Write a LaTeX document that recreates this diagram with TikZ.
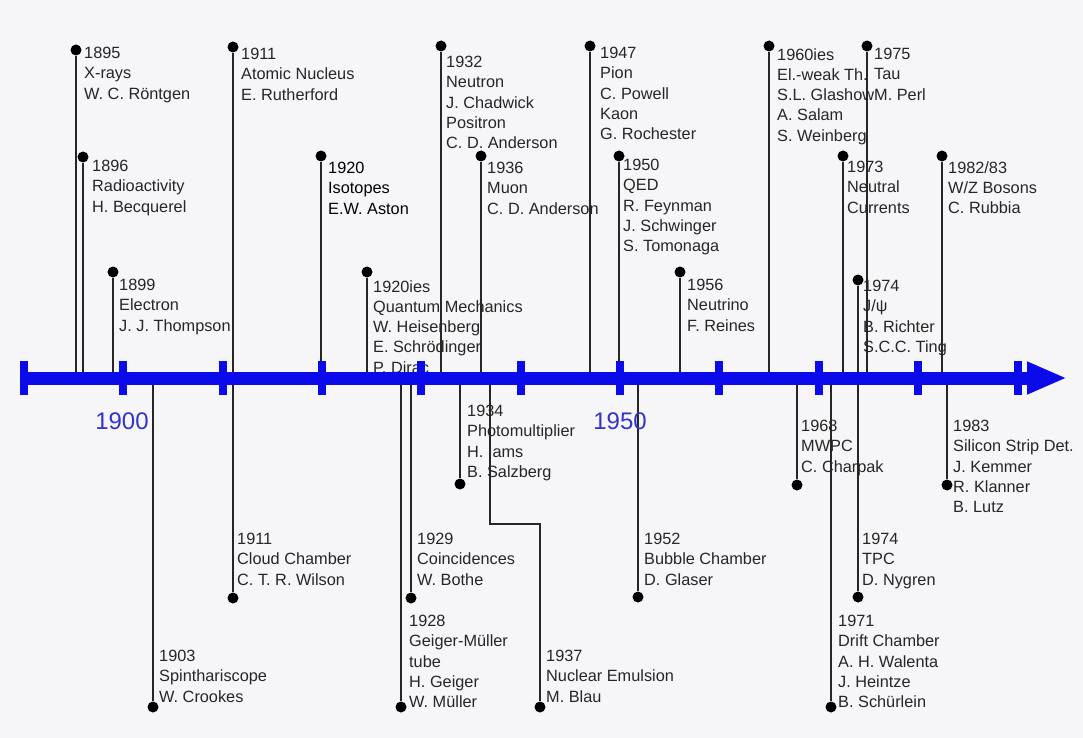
\documentclass[tikz,border=0pt]{standalone}
\usepackage{fontspec}
\setmainfont{Liberation Sans}
\usetikzlibrary{arrows.meta}
\definecolor{axisblue}{RGB}{10,10,235}
\definecolor{yearblue}{RGB}{50,50,205}
\definecolor{paper}{RGB}{246,246,248}
\newcommand{\evfont}{\fontsize{16.3}{20.3}\selectfont}
\tikzset{
    evdot/.style={
           circle,
           fill=black,
           inner sep=0pt,
           minimum size=11pt,
           },
    evtext/.style={
           anchor=north west,
           align=left,
           inner sep=0pt,
           font=\evfont,
           text=black!85,
           },
    stem/.style={draw=black!85, line width=2pt},
    axisline/.style={draw=axisblue, line width=13pt},
    tickmark/.style={draw=axisblue, line width=8pt},
    yearlabel/.style={font=\fontsize{24}{24}\selectfont, text=yearblue},
}

\begin{document}
\begin{tikzpicture}[x=1pt,y=-1pt]

 % page, 1083 x 738
 \useasboundingbox[fill=paper] (0,0) rectangle (1083,738);

 % points on the time axis where the stems start
 \coordinate (axisstart) at (24,378);
 \coordinate (axisend) at (1067,378);
 \coordinate (a1895) at (76,378);
 \coordinate (a1896) at (83,378);
 \coordinate (a1899) at (113,378);
 \coordinate (a1911) at (233,378);
 \coordinate (a1920) at (321,378);
 \coordinate (a1925) at (367,378);
 \coordinate (a1932) at (441,378);
 \coordinate (a1936) at (481,378);
 \coordinate (a1947) at (590,378);
 \coordinate (a1950) at (619,378);
 \coordinate (a1956) at (680,378);
 \coordinate (a1965) at (769,378);
 \coordinate (a1973) at (843,378);
 \coordinate (a1974) at (858,378);
 \coordinate (a1975) at (867,378);
 \coordinate (a1982) at (942,378);
 \coordinate (a1903) at (153,378);
 \coordinate (a1928) at (401,378);
 \coordinate (a1929) at (411,378);
 \coordinate (a1934) at (460,378);
 \coordinate (a1937) at (490,378);
 \coordinate (a1952) at (638,378);
 \coordinate (a1968) at (797,378);
 \coordinate (a1971) at (831,378);
 \coordinate (a1983) at (947,378);

 % discoveries (above the axis)
 \node[evdot] (d1895) at (76,50) {};
 \node[evtext] (t1895) at (84,47) {1895\\X-rays\\W. C. Röntgen};

 \node[evdot] (d1896) at (83,157) {};
 \node[evtext] (t1896) at (92,160) {1896\\Radioactivity\\H. Becquerel};

 \node[evdot] (d1899) at (113,272) {};
 \node[evtext] (t1899) at (119,279) {1899\\Electron\\J. J. Thompson};

 \node[evdot] (d1911) at (233,47) {};
 \node[evtext] (t1911) at (241,48) {1911\\Atomic Nucleus\\E. Rutherford};

 \node[evdot] (d1920) at (321,156) {};
 \node[evtext,text=black] (t1920) at (328,162) {1920\\Isotopes\\E.W. Aston};

 \node[evdot] (d1925) at (367,272) {};
 \node[evtext] (t1925) at (373,280)
 {1920ies\\Quantum Mechanics\\W. Heisenberg\\E. Schrödinger\\P. Dirac};

 \node[evdot] (d1932) at (441,46) {};
 \node[evtext] (t1932) at (446,56)
 {1932\\Neutron\\J. Chadwick\\Positron\\C. D. Anderson};

 \node[evdot] (d1936) at (481,156) {};
 \node[evtext] (t1936) at (487,162) {1936\\Muon\\C. D. Anderson};

 \node[evdot] (d1947) at (590,46) {};
 \node[evtext] (t1947) at (600,47) {1947\\Pion\\C. Powell\\Kaon\\G. Rochester};

 \node[evdot] (d1950) at (619,156) {};
 \node[evtext] (t1950) at (623,159)
 {1950\\QED\\R. Feynman\\J. Schwinger\\S. Tomonaga};

 \node[evdot] (d1956) at (680,272) {};
 \node[evtext] (t1956) at (687,279) {1956\\Neutrino\\F. Reines};

 \node[evdot] (d1965) at (769,46) {};
 \node[evtext] (t1965) at (777,48)
 {1960ies\\El.-weak Th.\\S.L. Glashow\\A. Salam\\S. Weinberg};

 \node[evdot] (d1973) at (843,156) {};
 \node[evtext] (t1973) at (847,161) {1973\\Neutral\\Currents};

 \node[evdot] (d1974) at (858,280) {};
 \node[evtext] (t1974) at (863,280) {1974\\J/ψ\\B. Richter\\S.C.C. Ting};

 \node[evdot] (d1975) at (867,46) {};
 \node[evtext] (t1975) at (874,48) {1975\\Tau\\M. Perl};

 \node[evdot] (d1982) at (942,156) {};
 \node[evtext] (t1982) at (948,161) {1982/83\\W/Z Bosons\\C. Rubbia};

 % detectors (below the axis)
 \node[evdot] (d1903) at (153,707) {};
 \node[evtext] (t1903) at (159,650) {1903\\Spinthariscope\\W. Crookes};

 \node[evdot] (d1911b) at (233,598) {};
 \node[evtext] (t1911b) at (237,533) {1911\\Cloud Chamber\\C. T. R. Wilson};

 \node[evdot] (d1928) at (401,707) {};
 \node[evtext] (t1928) at (409,615)
 {1928\\Geiger-Müller\\tube\\H. Geiger\\W. Müller};

 \node[evdot] (d1929) at (411,598) {};
 \node[evtext] (t1929) at (417,533) {1929\\Coincidences\\W. Bothe};

 \node[evdot] (d1934) at (460,484) {};
 \node[evtext] (t1934) at (467,405)
 {1934\\Photomultiplier\\H. Iams\\B. Salzberg};

 \node[evdot] (d1937) at (540,707) {};
 \node[evtext] (t1937) at (546,650) {1937\\Nuclear Emulsion\\M. Blau};

 \node[evdot] (d1952) at (638,597) {};
 \node[evtext] (t1952) at (644,533) {1952\\Bubble Chamber\\D. Glaser};

 \node[evdot] (d1968) at (797,485) {};
 \node[evtext] (t1968) at (801,420) {1968\\MWPC\\C. Charpak};

 \node[evdot] (d1971) at (831,707) {};
 \node[evtext] (t1971) at (838,615)
 {1971\\Drift Chamber\\A. H. Walenta\\J. Heintze\\B. Schürlein};

 \node[evdot] (d1974b) at (858,597) {};
 \node[evtext] (t1974b) at (862,533) {1974\\TPC\\D. Nygren};

 \node[evdot] (d1983) at (947,485) {};
 \node[evtext] (t1983) at (953,420)
 {1983\\Silicon Strip Det.\\J. Kemmer\\R. Klanner\\B. Lutz};

 % stems from the axis to the dots
 \path[stem] (a1895) -- (d1895)
       (a1896) -- (d1896)
       (a1899) -- (d1899)
       (a1911) -- (d1911)
       (a1920) -- (d1920)
       (a1925) -- (d1925)
       (a1932) -- (d1932)
       (a1936) -- (d1936)
       (a1947) -- (d1947)
       (a1950) -- (d1950)
       (a1956) -- (d1956)
       (a1965) -- (d1965)
       (a1973) -- (d1973)
       (a1974) -- (d1974)
       (a1975) -- (d1975)
       (a1982) -- (d1982)
       (a1903) -- (d1903)
       (a1911) -- (d1911b)
       (a1928) -- (d1928)
       (a1929) -- (d1929)
       (a1934) -- (d1934)
       (a1937) -- ++(0,146) -| (d1937)
       (a1952) -- (d1952)
       (a1968) -- (d1968)
       (a1971) -- (d1971)
       (a1974) -- (d1974b)
       (a1983) -- (d1983)
 ;

 % the time axis itself, on top of everything
 \draw[axisline,-{Triangle[length=40pt,width=30pt]}] (axisstart) -- (axisend);
 \foreach \t in {0,...,10}
   \draw[tickmark] ({24+\t*99.35},361) -- ++(0,34);

 \node[yearlabel] (y1900) at (122,421) {1900};
 \node[yearlabel] (y1950) at (620,421) {1950};

\end{tikzpicture}
\end{document}
